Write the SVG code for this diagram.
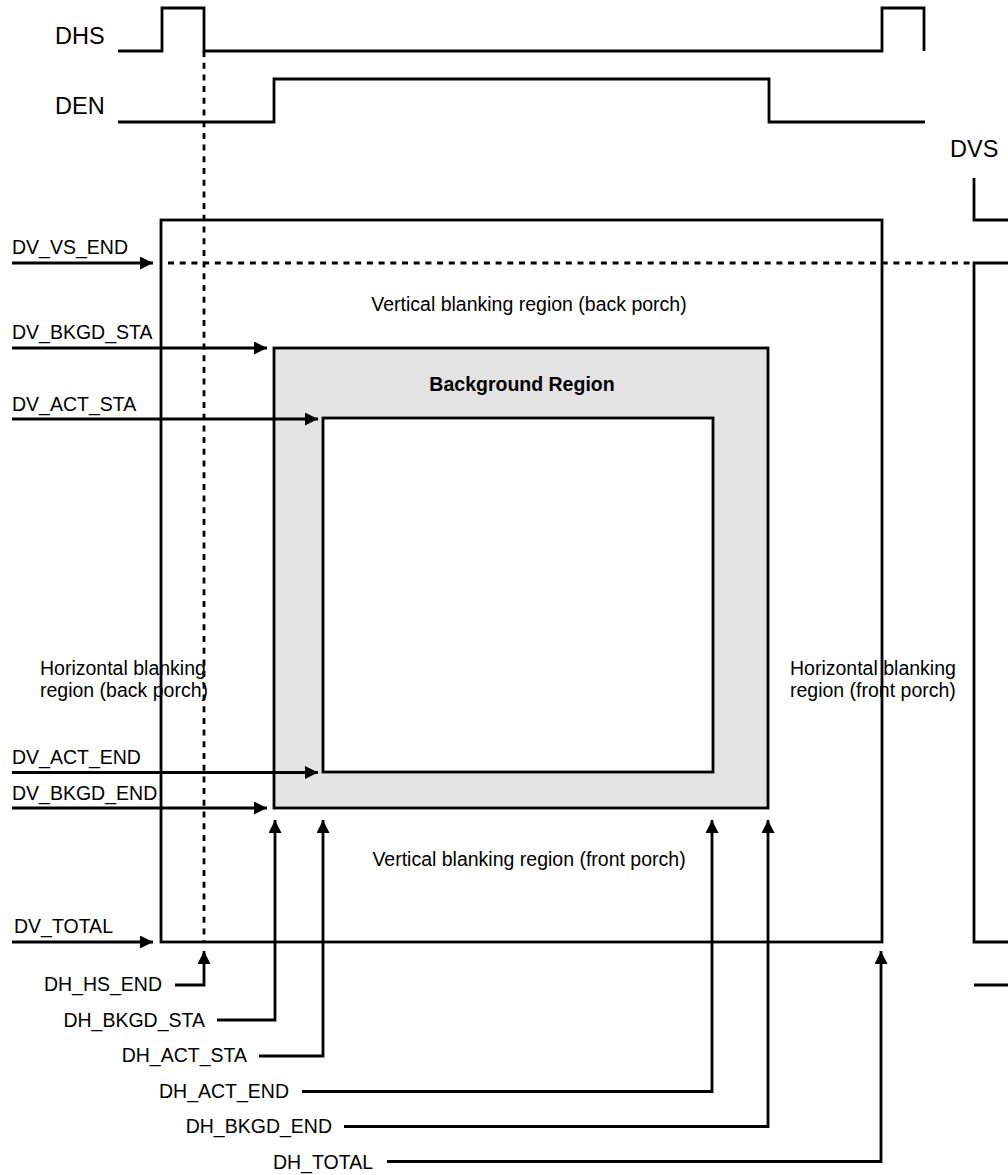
<svg xmlns="http://www.w3.org/2000/svg" width="1008" height="1175" viewBox="0 0 1008 1175">
<defs>
<marker id="ah" markerUnits="userSpaceOnUse" markerWidth="14" markerHeight="13" refX="13" refY="6.5" orient="auto">
<path d="M0,0 L13,6.5 L0,13 Z" fill="#000"/>
</marker>
<style>
.ln{fill:none;stroke:#000;stroke-width:2.8}
.dot{fill:none;stroke:#000;stroke-width:2.8;stroke-dasharray:6 5.7}
.arr{fill:none;stroke:#000;stroke-width:2.8;marker-end:url(#ah)}
.t{font-family:"Liberation Sans",Arial,sans-serif;font-size:19.5px;fill:#000}
.sig{font-family:"Liberation Sans",Arial,sans-serif;font-size:23.5px;fill:#000}
.b{font-family:"Liberation Sans",Arial,sans-serif;font-size:19.5px;font-weight:bold;fill:#000}
</style>
</defs>
<rect width="1008" height="1175" fill="#fff"/>

<g id="region-texts">
<text class="t" x="529" y="311" text-anchor="middle">Vertical blanking region (back porch)</text>
<text class="t" x="529" y="866" text-anchor="middle">Vertical blanking region (front porch)</text>
<text class="t" x="40" y="675">Horizontal blanking</text>
<text class="t" x="40" y="697">region (back porch)</text>
<text class="t" x="790" y="675">Horizontal blanking</text>
<text class="t" x="790" y="697">region (front porch)</text>
</g>

<g id="frame">
<rect class="ln" x="161" y="220" width="721" height="722"/>
</g>
<g id="background-region">
<rect x="274" y="348" width="494" height="460" fill="#e3e3e3" stroke="#000" stroke-width="2.8"/>
<text class="b" x="522" y="391" text-anchor="middle">Background Region</text>
</g>
<g id="active-region">
<rect x="323" y="418" width="390" height="354" fill="#fff" stroke="#000" stroke-width="2.8"/>
</g>

<g id="DHS">
<text class="sig" x="55" y="44">DHS</text>
<path class="ln" d="M118,51 H162 V8 H204 V51 H882 V8 H924 V51"/>
</g>
<g id="DEN">
<text class="sig" x="55" y="114">DEN</text>
<path class="ln" d="M118,122 H274 V79 H769 V122 H925"/>
</g>
<g id="DVS">
<text class="sig" x="950" y="157">DVS</text>
<path class="ln" d="M974,178 V220 H1008"/>
<path class="ln" d="M1008,263 H974 V942 H1008"/>
<path class="ln" d="M974,985 H1008"/>
</g>

<g id="connectors">
<path class="dot" d="M168,263 H972"/>
<path class="dot" d="M204,51 V942"/>

<path class="arr" d="M12,263 H153"/>
<path class="arr" d="M12,348 H267"/>
<path class="arr" d="M12,419 H318"/>
<path class="arr" d="M12,772.5 H318"/>
<path class="arr" d="M12,808 H267"/>
<path class="arr" d="M12,942 H153"/>

<path class="arr" d="M175,985 H204 V951"/>
<path class="arr" d="M217,1020 H275 V820"/>
<path class="arr" d="M259,1056 H323 V820"/>
<path class="arr" d="M302,1091.5 H712 V820"/>
<path class="arr" d="M344,1126.5 H768 V820"/>
<path class="arr" d="M387,1161.5 H881 V951"/>
</g>

<g id="labels">
<text class="t" x="12" y="254">DV_VS_END</text>
<text class="t" x="12" y="339">DV_BKGD_STA</text>
<text class="t" x="12" y="410.5">DV_ACT_STA</text>
<text class="t" x="12" y="764">DV_ACT_END</text>
<text class="t" x="12" y="800">DV_BKGD_END</text>
<text class="t" x="14" y="933">DV_TOTAL</text>
<text class="t" x="162" y="991" text-anchor="end">DH_HS_END</text>
<text class="t" x="205" y="1026.5" text-anchor="end">DH_BKGD_STA</text>
<text class="t" x="247" y="1062" text-anchor="end">DH_ACT_STA</text>
<text class="t" x="289" y="1097.5" text-anchor="end">DH_ACT_END</text>
<text class="t" x="332" y="1133" text-anchor="end">DH_BKGD_END</text>
<text class="t" x="373" y="1168.5" text-anchor="end">DH_TOTAL</text>
</g>
</svg>
